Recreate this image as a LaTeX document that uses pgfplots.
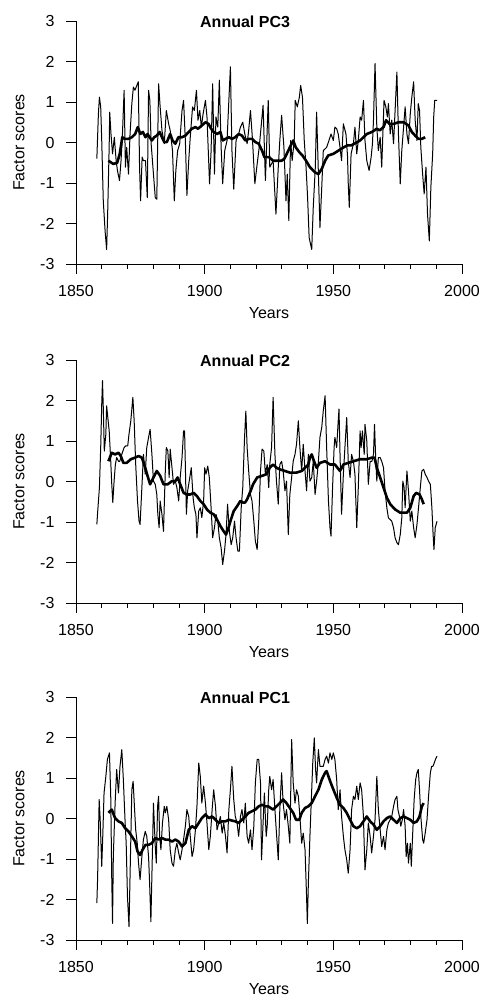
\documentclass[border=0pt]{standalone}
\usepackage{fontspec}
\setmainfont{Liberation Sans}
\usepackage{pgfplots}
\pgfplotsset{compat=1.18}
\pgfplotsset{
  panel/.style={
    scale only axis, width=386pt, height=243pt,
    xmin=1850, xmax=2000, ymin=-3, ymax=3,
    axis x line*=bottom, axis y line*=left,
    axis line style={-, line width=0.8pt, black},
    xtick={1850,1900,1950,2000}, minor x tick num=4,
    ytick={-3,-2,-1,0,1,2,3},
    tick align=outside, major tick length=10pt, minor tick length=5pt,
    every tick/.style={black, line width=0.8pt},
    /pgf/number format/1000 sep={},
    /pgf/number format/assume math mode=true,
    ticklabel style={font=\fontsize{16}{18}\selectfont},
    xticklabel style={yshift=-8pt},
    yticklabel style={xshift=-8pt},
    xlabel={Years}, ylabel={Factor scores},
    every axis x label/.style={at={(rel axis cs:0.5,0)}, yshift=-49pt, anchor=center, font=\fontsize{16}{18}\selectfont},
    every axis y label/.style={at={(rel axis cs:0,0.5)}, xshift=-57pt, rotate=90, anchor=center, font=\fontsize{16}{18}\selectfont},
    every axis title shift=0pt,
    title style={at={(rel axis cs:0.438,1)}, anchor=center, yshift=-1pt, font=\bfseries\fontsize{16}{18}\selectfont},
    clip=false,
  },
  thin/.style={black, line width=1.0pt, line join=round, mark=none},
  thick/.style={black, line width=2.6pt, line join=round, mark=none},
}
\begin{document}
\begin{tikzpicture}
\path[use as bounding box] (0pt,0pt) rectangle (481pt,-998pt);
% ---------------- PC3 ----------------
\begin{axis}[panel, at={(76pt,-264pt)}, anchor=south west, title={Annual PC3}]
\addplot[thin] coordinates {
(1858.1,-0.40) (1858.7,0.70) (1859.1,1.12) (1859.6,0.88) (1860.0,0.05) (1860.6,-1.44)
(1861.3,-2.18) (1861.9,-2.64) (1862.3,-1.77) (1862.9,-0.07) (1863.1,0.75) (1863.6,0.21)
(1864.2,-0.28) (1864.9,0.13) (1865.6,-0.45) (1866.1,-0.69) (1866.9,-0.94) (1867.5,-0.45)
(1868.0,0.13) (1868.7,1.29) (1869.2,-0.61) (1869.7,-0.12) (1870.4,-0.78) (1871.0,0.21)
(1871.7,0.96) (1872.3,1.37) (1872.9,1.29) (1873.4,1.37) (1874.2,1.50) (1874.7,-0.61)
(1875.1,-1.44) (1875.7,-0.36) (1876.2,-0.45) (1877.0,-0.45) (1877.7,-1.36) (1878.2,1.29)
(1878.7,1.04) (1879.2,-0.03) (1880.1,-0.78) (1880.8,-1.36) (1881.4,-1.40) (1882.1,1.45)
(1882.7,0.88) (1883.4,0.30) (1884.3,-0.03) (1885.1,0.79) (1886.0,0.46) (1886.6,0.30)
(1887.5,-0.20) (1888.2,-1.44) (1888.8,-0.69) (1889.5,-0.20) (1890.3,-0.03) (1891.2,0.79)
(1891.8,1.04) (1892.5,0.05) (1893.1,-1.31) (1893.8,-0.45) (1894.4,0.13) (1895.3,0.88)
(1896.0,0.79) (1896.8,1.29) (1897.4,0.55) (1898.1,0.79) (1898.7,0.38) (1899.4,0.71)
(1900.3,1.04) (1900.9,0.63) (1901.9,-1.02) (1902.5,-0.20) (1903.1,1.45) (1903.8,-0.78)
(1904.4,0.63) (1905.1,0.38) (1905.7,1.54) (1906.4,-0.12) (1907.0,-1.02) (1907.8,-0.20)
(1908.7,0.05) (1909.4,1.04) (1910.0,1.87) (1910.6,-0.20) (1911.3,-1.15) (1912.2,0.05)
(1913.2,0.21) (1913.9,0.38) (1914.8,0.50) (1915.6,0.21) (1916.5,-0.03) (1917.1,0.30)
(1917.8,0.79) (1918.6,0.05) (1919.5,-1.02) (1920.4,-0.53) (1921.2,-0.12) (1922.7,0.92)
(1923.6,-0.94) (1924.7,1.04) (1925.3,-0.61) (1926.6,-0.45) (1927.7,-1.77) (1928.6,-0.61)
(1929.2,0.05) (1929.9,0.67) (1930.8,-0.12) (1931.6,-1.44) (1932.1,-0.78) (1932.7,-1.93)
(1933.4,0.05) (1934.0,-0.45) (1934.8,0.05) (1935.2,1.04) (1936.0,0.88) (1936.8,1.12)
(1937.3,1.41) (1938.0,1.12) (1938.7,0.05) (1939.4,-0.61) (1940.0,-1.36) (1940.6,-2.35)
(1941.6,-2.64) (1942.2,-1.60) (1943.0,-0.61) (1943.5,0.75) (1944.2,-0.78) (1944.8,-2.10)
(1945.5,-1.10) (1946.1,-0.20) (1947.4,-0.12) (1948.3,0.05) (1949.1,0.21) (1950.0,0.05)
(1950.6,0.38) (1951.3,0.34) (1951.9,0.21) (1952.6,-0.12) (1953.2,-0.45) (1953.9,0.46)
(1954.9,0.21) (1955.5,-0.32) (1955.8,-1.02) (1956.2,-1.60) (1956.9,-0.28) (1957.8,-0.03)
(1958.4,0.38) (1959.1,-0.28) (1959.7,0.05) (1960.4,0.63) (1961.0,0.55) (1961.7,1.04)
(1962.3,0.05) (1963.0,-0.45) (1963.9,-0.69) (1964.7,-0.36) (1965.2,-0.03) (1965.6,0.55)
(1966.2,1.95) (1966.9,0.38) (1967.5,-0.20) (1968.2,0.13) (1968.8,-0.61) (1969.7,1.04)
(1970.4,0.88) (1971.0,0.63) (1971.4,0.96) (1972.1,0.21) (1972.7,0.55) (1973.4,-0.03)
(1974.0,0.79) (1974.7,1.74) (1975.3,0.21) (1976.0,-1.02) (1976.6,-0.20) (1977.3,0.38)
(1977.9,0.88) (1978.6,0.21) (1979.2,-0.03) (1979.9,0.71) (1980.5,1.12) (1981.2,1.50)
(1981.8,0.55) (1982.5,0.05) (1983.0,0.96) (1983.5,0.79) (1984.0,-0.12) (1984.7,-0.78)
(1985.3,-1.27) (1986.0,-0.61) (1986.6,-1.77) (1987.3,-2.43) (1987.9,-1.10) (1988.6,-0.28)
(1989.0,0.63) (1989.4,1.04) (1990.3,1.04)
};
\addplot[thick] coordinates {
(1862.6,-0.45) (1864.5,-0.53) (1866.0,-0.50) (1867.0,-0.28) (1868.0,0.13) (1869.0,0.09)
(1870.4,0.09) (1871.7,0.13) (1873.0,0.21) (1874.0,0.38) (1875.0,0.21) (1876.0,0.26)
(1877.0,0.13) (1877.8,0.21) (1878.6,0.13) (1879.5,0.05) (1880.4,0.13) (1881.4,0.17)
(1882.5,0.26) (1883.4,0.13) (1884.3,0.01) (1885.3,0.01) (1886.6,0.21) (1887.5,0.05)
(1888.6,-0.03) (1889.8,0.13) (1891.2,0.13) (1892.5,0.17) (1893.8,0.26) (1895.0,0.34)
(1896.4,0.38) (1897.4,0.34) (1898.9,0.42) (1900.3,0.50) (1901.5,0.46) (1902.5,0.34)
(1903.5,0.26) (1904.8,0.21) (1906.1,0.26) (1907.0,0.05) (1908.1,0.09) (1909.4,0.13)
(1910.6,0.09) (1911.9,0.13) (1913.2,0.21) (1914.5,0.17) (1915.8,0.05) (1917.1,0.09)
(1918.4,0.09) (1919.7,0.01) (1921.0,-0.03) (1922.3,-0.20) (1923.2,-0.36) (1925.0,-0.36)
(1926.6,-0.45) (1928.6,-0.45) (1929.9,-0.45) (1931.0,-0.40) (1932.5,-0.20) (1933.8,-0.03)
(1934.4,0.05) (1935.4,-0.12) (1936.8,-0.24) (1938.0,-0.32) (1939.4,-0.45) (1940.9,-0.61)
(1942.9,-0.74) (1944.2,-0.78) (1945.5,-0.65) (1946.8,-0.45) (1948.0,-0.32) (1950.0,-0.28)
(1952.0,-0.20) (1954.0,-0.12) (1955.5,-0.07) (1957.0,-0.07) (1959.0,0.00) (1960.4,0.05)
(1961.7,0.13) (1963.0,0.21) (1965.0,0.26) (1966.9,0.34) (1968.0,0.30) (1969.5,0.38)
(1970.5,0.55) (1971.8,0.46) (1973.4,0.46) (1975.3,0.50) (1977.3,0.50) (1979.2,0.42)
(1980.5,0.26) (1981.8,0.17) (1983.1,0.09) (1984.4,0.09) (1985.7,0.13)
};
\end{axis}
% ---------------- PC2 ----------------
\begin{axis}[panel, at={(76pt,-603pt)}, anchor=south west, title={Annual PC2}]
\addplot[thin] coordinates {
(1858.1,-1.06) (1858.4,-0.77) (1859.1,-0.15) (1859.6,0.84) (1860.0,1.91) (1860.3,2.49)
(1860.6,1.83) (1861.0,0.75) (1861.6,1.17) (1861.9,1.87) (1862.3,1.62) (1862.9,1.25)
(1863.5,0.50) (1863.9,-0.07) (1864.3,-0.52) (1864.8,0.01) (1865.3,0.42) (1865.8,0.59)
(1866.5,0.50) (1867.0,0.50) (1867.8,0.67) (1868.7,0.84) (1869.3,0.88) (1870.1,0.88)
(1870.6,1.17) (1871.3,1.50) (1872.1,2.08) (1872.6,1.50) (1873.2,0.42) (1873.9,-0.48)
(1874.5,-0.98) (1874.9,-1.06) (1875.6,-0.15) (1876.2,0.67) (1876.9,0.18) (1877.5,0.84)
(1878.2,1.09) (1878.8,1.29) (1879.5,0.67) (1880.1,0.01) (1880.8,-0.07) (1881.4,-0.32)
(1881.8,-0.81) (1882.3,-1.14) (1882.7,-0.48) (1883.4,-0.81) (1884.0,-1.23) (1884.7,0.26)
(1885.1,0.84) (1885.7,0.75) (1886.2,0.10) (1886.6,0.80) (1887.3,0.34) (1887.9,-0.07)
(1888.6,0.01) (1889.2,-0.15) (1889.9,-0.48) (1890.5,0.10) (1891.2,0.59) (1891.8,1.25)
(1892.2,1.25) (1892.9,-0.81) (1893.4,-0.23) (1894.0,0.01) (1894.8,0.34) (1895.5,-0.40)
(1896.0,-0.65) (1896.6,-0.81) (1897.0,-1.39) (1897.7,-0.73) (1898.3,-0.65) (1898.9,-0.89)
(1899.6,-0.48) (1900.0,0.34) (1900.5,0.18) (1901.2,0.38) (1901.8,0.10) (1902.5,-0.65)
(1903.1,-1.39) (1903.8,-1.14) (1904.4,-0.81) (1905.1,-0.98) (1905.7,-1.39) (1906.4,-1.64)
(1907.0,-2.05) (1907.7,-1.72) (1908.3,-1.31) (1908.9,-0.56) (1909.6,-1.23) (1910.3,-1.56)
(1910.9,-1.39) (1911.6,-0.98) (1912.2,-1.39) (1912.9,-1.72) (1913.5,-1.72) (1914.2,-0.65)
(1914.8,-0.15) (1915.5,1.09) (1916.0,1.74) (1916.5,0.84) (1917.1,0.26) (1917.8,-0.32)
(1918.4,-0.48) (1919.1,-0.98) (1919.7,-1.47) (1920.4,-1.68) (1921.0,-0.98) (1921.7,0.26)
(1922.3,0.80) (1923.0,0.75) (1923.6,0.18) (1924.3,0.42) (1924.9,-0.15) (1925.3,0.42)
(1926.0,0.84) (1926.6,2.08) (1927.3,0.67) (1927.9,0.01) (1928.6,-0.56) (1929.2,0.42)
(1929.9,0.50) (1930.5,0.26) (1931.2,-0.23) (1931.8,0.01) (1932.5,-1.31) (1933.1,-0.32)
(1933.8,0.10) (1934.4,0.50) (1935.1,0.67) (1935.7,0.92) (1936.4,1.50) (1937.0,0.84)
(1937.7,0.26) (1938.3,0.92) (1939.0,0.26) (1939.6,-0.23) (1940.3,0.67) (1940.9,0.01)
(1941.6,0.10) (1942.2,0.50) (1942.9,-0.32) (1943.5,0.01) (1944.2,0.50) (1944.8,1.09)
(1945.5,1.34) (1946.1,1.75) (1946.8,2.12) (1947.4,0.84) (1948.1,-0.48) (1948.7,-1.14)
(1949.1,-1.35) (1949.7,-0.15) (1950.3,0.84) (1950.6,1.09) (1951.3,0.84) (1951.9,1.50)
(1952.2,1.79) (1952.6,0.67) (1953.2,-0.81) (1953.9,0.18) (1954.5,0.84) (1955.2,1.58)
(1955.8,0.50) (1956.5,0.10) (1957.1,0.67) (1957.8,0.50) (1958.4,0.18) (1959.1,-1.14)
(1959.7,-0.15) (1960.4,1.25) (1960.8,0.84) (1961.3,1.25) (1962.0,0.67) (1962.3,1.41)
(1963.0,1.00) (1963.6,-0.07) (1964.3,0.50) (1965.0,0.50) (1965.6,0.67) (1966.0,1.41)
(1966.5,0.50) (1966.9,0.01) (1967.5,0.59) (1968.2,0.59) (1968.8,0.50) (1969.5,0.34)
(1970.1,-0.23) (1970.8,-0.65) (1971.4,-0.90) (1972.1,-0.94) (1972.7,-0.98) (1973.4,-1.14)
(1974.0,-1.39) (1974.7,-1.51) (1975.3,-1.56) (1976.0,-1.31) (1976.6,-0.90) (1977.0,0.01)
(1977.5,-0.15) (1977.9,-0.65) (1978.6,0.26) (1979.2,-0.23) (1979.9,-0.98) (1980.5,-0.73)
(1981.2,-1.14) (1981.8,-1.39) (1982.5,-1.06) (1983.1,-0.65) (1983.8,-0.15) (1984.4,0.26)
(1985.1,0.30) (1985.7,0.18) (1986.4,0.10) (1987.0,0.01) (1987.7,-0.07) (1988.3,-0.65)
(1988.7,-1.22) (1989.1,-1.68) (1989.6,-1.14) (1990.3,-0.98)
};
\addplot[thick] coordinates {
(1862.6,0.50) (1863.9,0.71) (1865.2,0.67) (1866.5,0.71) (1867.4,0.63) (1868.4,0.46)
(1869.7,0.46) (1871.3,0.55) (1873.0,0.59) (1874.3,0.63) (1875.6,0.59) (1876.9,0.34)
(1877.8,0.14) (1878.8,-0.07) (1880.1,0.10) (1881.4,0.26) (1882.7,0.14) (1884.0,-0.07)
(1885.6,-0.07) (1887.3,0.01) (1888.6,0.01) (1889.5,0.10) (1890.5,-0.07) (1891.8,-0.28)
(1893.1,-0.32) (1894.4,-0.32) (1895.7,-0.28) (1897.0,-0.36) (1898.3,-0.48) (1899.6,-0.56)
(1900.9,-0.69) (1902.2,-0.77) (1903.5,-0.81) (1904.8,-0.94) (1906.1,-1.10) (1907.4,-1.23)
(1908.3,-1.31) (1909.1,-1.18) (1910.0,-0.98) (1911.3,-0.73) (1912.6,-0.61) (1913.9,-0.48)
(1914.9,-0.52) (1915.7,-0.52) (1916.5,-0.44) (1917.8,-0.24) (1918.8,-0.07) (1920.4,0.10)
(1922.3,0.14) (1924.0,0.18) (1925.3,0.34) (1926.6,0.42) (1927.9,0.34) (1929.2,0.30)
(1931.2,0.26) (1933.1,0.22) (1935.7,0.22) (1937.7,0.26) (1939.0,0.34) (1940.3,0.42)
(1940.9,0.59) (1941.6,0.67) (1942.5,0.50) (1943.5,0.34) (1944.8,0.46) (1946.8,0.50)
(1948.7,0.42) (1950.6,0.42) (1952.6,0.26) (1953.9,0.42) (1955.8,0.46) (1957.8,0.50)
(1960.4,0.55) (1963.0,0.55) (1965.0,0.59) (1966.0,0.59) (1966.9,0.34) (1968.2,0.10)
(1969.5,-0.15) (1970.8,-0.40) (1972.1,-0.56) (1974.0,-0.69) (1976.0,-0.77) (1978.6,-0.77)
(1979.9,-0.65) (1981.2,-0.36) (1982.2,-0.28) (1983.5,-0.32) (1984.4,-0.44) (1985.1,-0.56)
};
\end{axis}
% ---------------- PC1 ----------------
\begin{axis}[panel, at={(76pt,-940pt)}, anchor=south west, title={Annual PC1}]
\addplot[thin] coordinates {
(1858.1,-2.09) (1858.4,-1.47) (1859.0,0.47) (1859.4,-0.03) (1860.0,-1.18) (1860.4,-0.44)
(1860.9,0.63) (1861.6,1.04) (1862.2,1.46) (1863.0,1.62) (1863.5,0.55) (1863.9,-1.51)
(1864.2,-2.59) (1864.5,-0.94) (1865.2,0.38) (1865.8,1.21) (1866.5,0.63) (1867.1,1.29)
(1867.8,1.70) (1868.4,0.96) (1869.1,-0.11) (1869.5,-0.61) (1870.0,-1.93) (1870.6,-2.67)
(1871.0,-1.43) (1871.7,0.71) (1872.2,0.92) (1872.7,0.30) (1873.2,-0.28) (1873.8,-0.61)
(1874.3,-1.10) (1874.9,-1.51) (1875.6,-0.94) (1876.2,-0.52) (1876.9,-0.32) (1877.5,-0.44)
(1878.2,-0.94) (1878.6,-1.59) (1879.1,-2.55) (1879.6,-1.10) (1880.1,0.38) (1880.8,-0.69)
(1881.2,-1.10) (1881.7,0.30) (1882.1,0.55) (1882.5,-0.44) (1883.0,-0.77) (1883.6,-0.11)
(1884.3,0.30) (1884.7,0.14) (1885.3,0.30) (1886.0,-0.03) (1886.6,-0.77) (1887.3,-1.10)
(1887.9,-1.18) (1888.6,-0.77) (1889.2,-0.61) (1889.9,-0.85) (1890.5,-1.02) (1891.2,-0.77)
(1891.8,-0.52) (1892.5,-0.19) (1893.1,0.22) (1893.8,0.05) (1894.4,-0.44) (1895.1,-0.94)
(1895.7,-0.77) (1896.4,-0.28) (1897.0,0.30) (1897.7,1.37) (1898.3,1.04) (1898.9,0.38)
(1899.6,0.80) (1900.3,0.38) (1900.9,-0.11) (1901.6,-0.77) (1902.2,-0.44) (1902.9,0.22)
(1903.5,0.71) (1904.2,0.30) (1904.8,-0.28) (1905.5,-0.11) (1906.1,0.05) (1906.8,-0.36)
(1907.4,-0.11) (1908.1,-0.44) (1908.7,-0.85) (1909.4,0.22) (1910.0,0.71) (1910.6,1.29)
(1911.3,0.47) (1911.9,0.05) (1912.6,-0.11) (1913.2,-0.44) (1913.9,0.05) (1914.5,0.22)
(1915.2,-0.11) (1915.8,0.38) (1916.5,-0.44) (1917.1,-0.61) (1917.8,-0.28) (1918.4,-0.77)
(1919.1,-0.19) (1919.7,0.88) (1920.4,1.46) (1921.0,1.46) (1921.7,0.88) (1922.1,-1.02)
(1922.7,-0.11) (1923.2,0.63) (1923.9,-0.44) (1924.3,-0.19) (1924.9,0.71) (1925.3,1.04)
(1926.0,0.71) (1926.6,0.96) (1927.3,0.22) (1927.9,-0.36) (1928.6,-1.02) (1929.2,0.22)
(1929.9,1.13) (1930.5,0.38) (1931.2,-0.03) (1931.8,0.22) (1932.5,-0.19) (1933.1,-0.61)
(1933.8,1.95) (1934.4,0.88) (1935.1,0.38) (1935.7,0.71) (1936.4,0.55) (1937.0,0.05)
(1937.7,-0.61) (1938.3,-0.36) (1939.0,-0.77) (1939.6,-1.93) (1939.9,-2.59) (1940.3,-1.59)
(1940.9,-0.44) (1941.6,0.71) (1942.0,1.37) (1942.6,1.99) (1943.1,1.21) (1943.5,0.88)
(1944.2,1.70) (1944.8,1.29) (1945.5,1.29) (1946.1,1.29) (1946.8,1.46) (1947.4,1.54)
(1948.1,1.37) (1948.7,1.62) (1949.4,1.46) (1950.0,1.62) (1950.6,1.46) (1951.3,0.96)
(1951.9,0.22) (1952.6,0.71) (1953.2,0.05) (1953.9,-0.44) (1954.5,-0.77) (1955.2,-1.02)
(1955.8,-1.35) (1956.5,-0.77) (1957.1,0.22) (1957.8,0.55) (1958.4,0.47) (1959.1,0.80)
(1959.7,0.47) (1960.4,0.88) (1961.0,0.71) (1961.7,0.05) (1961.9,-0.44) (1962.3,-1.27)
(1963.0,-0.77) (1963.6,-0.11) (1964.3,-0.44) (1964.9,-0.85) (1965.6,-0.44) (1966.2,-0.03)
(1966.9,1.04) (1967.5,0.22) (1968.2,-0.28) (1968.8,-0.69) (1969.5,-0.44) (1970.1,-0.77)
(1970.8,-0.28) (1971.4,-0.11) (1972.1,-0.03) (1972.7,0.05) (1973.4,0.30) (1974.0,0.47)
(1974.7,0.55) (1975.1,0.22) (1975.7,0.05) (1976.2,-0.19) (1976.8,-0.03) (1977.3,0.22)
(1977.9,-0.19) (1978.3,-0.94) (1978.8,-0.61) (1979.2,-1.10) (1979.9,-0.61) (1980.3,-1.18)
(1980.9,-0.28) (1981.4,0.47) (1982.0,0.96) (1982.5,1.13) (1983.0,1.21) (1983.5,0.71)
(1984.0,0.05) (1984.7,-0.52) (1985.1,-0.61) (1985.7,-0.36) (1986.4,-0.03) (1987.0,0.55)
(1987.7,1.13) (1988.2,1.29) (1988.7,1.29) (1989.2,1.37) (1989.7,1.46) (1990.3,1.54)
};
\addplot[thick] coordinates {
(1862.6,0.14) (1863.9,0.22) (1865.2,0.01) (1866.5,-0.07) (1867.8,-0.11) (1869.1,-0.24)
(1870.4,-0.32) (1871.7,-0.44) (1873.0,-0.57) (1873.9,-0.81) (1874.9,-0.90) (1875.9,-0.77)
(1877.0,-0.65) (1878.2,-0.65) (1879.5,-0.61) (1880.8,-0.48) (1882.1,-0.52) (1883.4,-0.48)
(1884.7,-0.52) (1886.0,-0.52) (1887.3,-0.57) (1888.6,-0.52) (1889.9,-0.57) (1891.2,-0.69)
(1892.5,-0.61) (1893.8,-0.28) (1895.1,-0.19) (1896.4,-0.24) (1897.7,-0.11) (1898.9,0.01)
(1900.3,0.10) (1901.6,0.01) (1902.9,0.05) (1904.2,-0.03) (1905.5,-0.11) (1906.8,-0.07)
(1908.1,-0.07) (1909.4,-0.03) (1910.6,-0.05) (1911.9,-0.07) (1913.2,-0.11) (1914.5,-0.03)
(1915.8,0.05) (1917.1,0.14) (1918.4,0.18) (1919.7,0.22) (1921.0,0.30) (1922.3,0.34)
(1923.5,0.30) (1924.7,0.30) (1926.6,0.22) (1927.9,0.30) (1929.2,0.38) (1930.5,0.47)
(1931.8,0.38) (1933.1,0.26) (1934.4,0.14) (1935.5,-0.03) (1936.8,-0.03) (1937.7,0.14)
(1939.0,0.26) (1940.3,0.30) (1941.6,0.38) (1942.9,0.55) (1944.2,0.71) (1945.5,0.96)
(1946.8,1.13) (1947.4,1.17) (1948.1,1.04) (1949.0,0.88) (1950.3,0.67) (1951.6,0.47)
(1952.6,0.34) (1953.9,0.26) (1955.2,0.14) (1956.5,-0.03) (1957.8,-0.19) (1959.1,-0.24)
(1960.4,-0.19) (1961.7,-0.07) (1963.0,0.05) (1964.3,-0.07) (1965.6,-0.15) (1966.9,-0.28)
(1968.2,-0.19) (1969.5,-0.07) (1970.8,0.01) (1972.1,0.05) (1973.4,-0.03) (1974.7,-0.11)
(1976.0,0.01) (1977.3,0.05) (1978.6,0.01) (1979.9,-0.03) (1981.2,-0.11) (1982.5,-0.07)
(1983.5,0.05) (1984.4,0.30) (1985.1,0.38)
};
\end{axis}
\end{tikzpicture}
\end{document}
